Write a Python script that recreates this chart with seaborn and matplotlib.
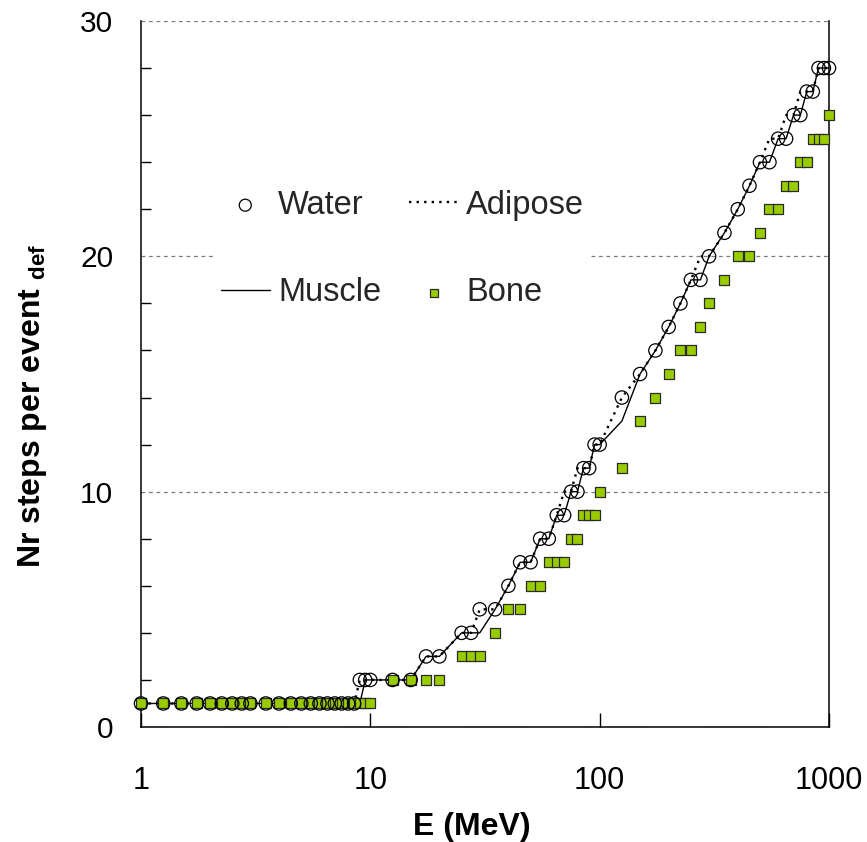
import matplotlib
matplotlib.use("Agg")
import matplotlib.pyplot as plt
import seaborn as sns
import pandas as pd
from matplotlib.ticker import NullLocator, MultipleLocator, FixedLocator, FixedFormatter

# ---- data ----
energy = [1, 1.25, 1.5, 1.75, 2, 2.25, 2.5, 2.75, 3, 3.5, 4, 4.5, 5, 5.5, 6, 6.5, 7, 7.5, 8, 8.5,
          9, 9.5, 10, 12.5, 15, 17.5, 20, 25, 27.5, 30,
          35, 40, 45, 50, 55, 60, 65, 70, 75, 80, 85, 90, 95, 100,
          125, 150, 175, 200, 225, 250, 275, 300,
          350, 400, 450, 500, 550, 600, 650, 700, 750, 800, 850, 900, 950, 1000]
water = [1, 1, 1, 1, 1, 1, 1, 1, 1, 1, 1, 1, 1, 1, 1, 1, 1, 1, 1, 1,
         2, 2, 2, 2, 2, 3, 3, 4, 4, 5,
         5, 6, 7, 7, 8, 8, 9, 9, 10, 10, 11, 11, 12, 12,
         14, 15, 16, 17, 18, 19, 19, 20,
         21, 22, 23, 24, 24, 25, 25, 26, 26, 27, 27, 28, 28, 28]
muscle = [1, 1, 1, 1, 1, 1, 1, 1, 1, 1, 1, 1, 1, 1, 1, 1, 1, 1, 1, 1,
          1, 2, 2, 2, 2, 3, 3, 4, 4, 4,
          5, 6, 7, 7, 8, 8, 9, 9, 10, 10, 11, 11, 12, 12,
          13, 15, 16, 17, 18, 19, 19, 20,
          21, 22, 23, 24, 24, 25, 25, 26, 26, 27, 27, 28, 28, 28]
adipose = [1, 1, 1, 1, 1, 1, 1, 1, 1, 1, 1, 1, 1, 1, 1, 1, 1, 1, 1, 1,
           2, 2, 2, 2, 2, 3, 3, 4, 4, 5,
           5, 6, 7, 7, 8, 8, 9, 10, 10, 11, 11, 11, 12, 12,
           14, 15, 16, 17, 18, 19, 20, 20,
           21, 22, 23, 24, 25, 25, 26, 26, 27, 27, 27, 28, 28, 28]
bone = [1, 1, 1, 1, 1, 1, 1, 1, 1, 1, 1, 1, 1, 1, 1, 1, 1, 1, 1, 1,
        1, 1, 1, 2, 2, 2, 2, 3, 3, 3,
        4, 5, 5, 6, 6, 7, 7, 7, 8, 8, 9, 9, 9, 10,
        11, 13, 14, 15, 16, 16, 17, 18,
        19, 20, 20, 21, 22, 22, 23, 23, 24, 24, 25, 25, 25, 26]
x_ticks = [1, 10, 100, 1000]
x_ticklabels = ["1", "10", "100", "1000"]
y_ticks = [0, 10, 20, 30]
y_ticklabels = ["0", "10", "20", "30"]

df = pd.DataFrame({"E": energy, "Water": water, "Muscle": muscle,
                   "Adipose": adipose, "Bone": bone})

sns.set_theme(style="white")
plt.rcParams["font.family"] = ["Liberation Sans", "DejaVu Sans"]
plt.rcParams["mathtext.fontset"] = "custom"
plt.rcParams["mathtext.rm"] = "Liberation Sans"
plt.rcParams["mathtext.bf"] = "Liberation Sans:bold"

fig = plt.figure(figsize=(8.67, 8.42), dpi=100)
ax = fig.add_axes([141 / 867, 1 - 727 / 842, 688 / 867, 706 / 842])

sns.lineplot(data=df, x="E", y="Muscle", ax=ax, color="black", lw=1.0,
             label="Muscle", zorder=2, legend=False)
sns.lineplot(data=df, x="E", y="Adipose", ax=ax, color="black", lw=1.7,
             ls=(0, (1, 2.2)), label="Adipose", zorder=2, legend=False)
sns.scatterplot(data=df, x="E", y="Bone", ax=ax, marker="s", s=46,
                color="#99cc00", edgecolor="#2a2a2a", linewidth=0.9,
                label="Bone", zorder=3, clip_on=False, legend=False)
sns.scatterplot(data=df, x="E", y="Water", ax=ax, marker="o", s=92,
                facecolors="none", edgecolors="black", linewidth=0.9,
                label="Water", zorder=4, clip_on=False, legend=False)

ax.set_xscale("log")
ax.set_xlim(1, 1000)
ax.set_ylim(0, 30)

ax.xaxis.set_major_locator(FixedLocator(x_ticks))
ax.xaxis.set_major_formatter(FixedFormatter(x_ticklabels))
ax.xaxis.set_minor_locator(NullLocator())
ax.yaxis.set_major_locator(FixedLocator(y_ticks))
ax.yaxis.set_major_formatter(FixedFormatter(y_ticklabels))
ax.yaxis.set_minor_locator(MultipleLocator(2))

ax.tick_params(axis="x", which="major", direction="in", length=10, width=1,
               color="black", pad=28, labelsize=22, labelcolor="black", bottom=True)
ax.tick_params(axis="y", which="major", length=0, pad=20, labelsize=21.5,
               labelcolor="black", left=True)
ax.tick_params(axis="y", which="minor", direction="in", length=7, width=1,
               color="black", left=True)

ax.yaxis.grid(True, which="major", color="#7a7a7a", ls=(0, (3, 3)), lw=0.9)
ax.xaxis.grid(False)

for side in ["left", "bottom", "right"]:
    ax.spines[side].set_visible(True)
    ax.spines[side].set_color("black")
    ax.spines[side].set_linewidth(1.1)
ax.spines["top"].set_visible(False)

ax.set_xlabel("E (MeV)", fontsize=23, fontweight="bold", color="black")
ax.xaxis.set_label_coords(0.481, -0.121)
ax.set_ylabel(r"Nr steps per event $\mathbf{_{def}}$", fontsize=23,
              fontweight="bold", color="black")
ax.yaxis.set_label_coords(-0.134, 0.455)

handles, labels = ax.get_legend_handles_labels()
order = ["Water", "Muscle", "Adipose", "Bone"]
hmap = dict(zip(labels, handles))
leg = ax.legend([hmap[k] for k in order], order, ncol=2, loc="center",
                bbox_to_anchor=(402.5 / 867, 1 - 249 / 842),
                bbox_transform=fig.transFigure, fontsize=23.5,
                handlelength=1.5, handletextpad=0.25, columnspacing=0.86,
                labelspacing=1.73, frameon=True, facecolor="white",
                edgecolor="none", framealpha=1, borderpad=0.15,
                borderaxespad=0, markerscale=0.9, fancybox=False)
leg.set_zorder(5)

fig.savefig("out.png", dpi=100)
